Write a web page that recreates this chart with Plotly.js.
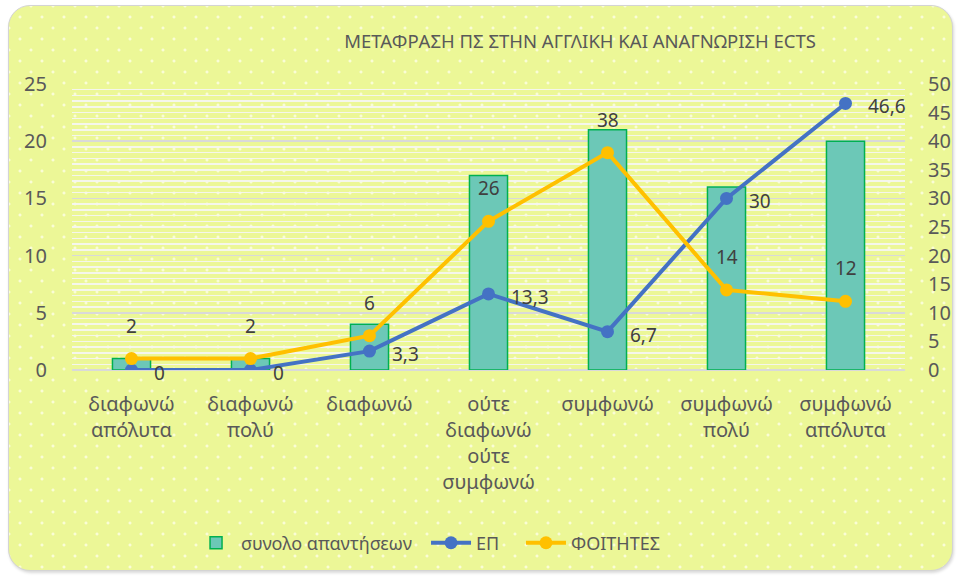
<!DOCTYPE html>
<html>
<head>
<meta charset="utf-8">
<script src="https://cdn.plot.ly/plotly-3.0.1.min.js"></script>
<style>
  html, body { margin: 0; padding: 0; width: 959px; height: 578px; overflow: hidden; background: #ffffff; }
  #frame {
    position: absolute; left: 8px; top: 5px; width: 945px; height: 566px;
    border: 1.5px solid #D4D4D4; border-radius: 22px; box-sizing: border-box;
    background-color: #ECF797;
    background-image:
      radial-gradient(circle, rgba(255,255,235,0.75) 1.2px, transparent 1.8px),
      radial-gradient(circle, rgba(255,255,235,0.75) 1.2px, transparent 1.8px);
    background-size: 22px 22px, 22px 22px;
    background-position: 0px 0px, 11px 11px;
    box-shadow: 1px 2px 3px rgba(0,0,0,0.15);
  }
  #chart { position: absolute; left: 0; top: 0; width: 959px; height: 578px; }
</style>
</head>
<body>
<div id="frame"></div>
<div id="chart"></div>
<script>
const categories = ["διαφωνώ<br>απόλυτα", "διαφωνώ<br>πολύ", "διαφωνώ", "ούτε<br>διαφωνώ<br>ούτε<br>συμφωνώ", "συμφωνώ", "συμφωνώ<br>πολύ", "συμφωνώ<br>απόλυτα"];
const totalAnswers = [1, 1, 4, 17, 21, 16, 20];
const epValues = [0, 0, 3.3, 13.3, 6.7, 30, 46.6];
const studentValues = [2, 2, 6, 26, 38, 14, 12];
const leftTicks = [0, 5, 10, 15, 20, 25];
const rightTicks = [0, 5, 10, 15, 20, 25, 30, 35, 40, 45, 50];

const FONT = "Noto Sans, Open Sans, DejaVu Sans, sans-serif";
const fmt = v => String(v).replace('.', ',');

const traces = [
  {
    type: 'bar', name: 'συνολο απαντήσεων', x: categories, y: totalAnswers,
    width: 0.32, legend: 'legend',
    marker: { color: '#6CC8B7', line: { color: '#00B050', width: 1.5 } },
    hoverinfo: 'none'
  },
  {
    type: 'scatter', mode: 'lines+markers', name: 'ΕΠ', x: categories, y: epValues, yaxis: 'y2',
    legend: 'legend2',
    line: { color: '#4472C4', width: 4 },
    marker: { color: '#4472C4', size: 13 },
    hoverinfo: 'none'
  },
  {
    type: 'scatter', mode: 'lines+markers', name: 'ΦΟΙΤΗΤΕΣ', x: categories, y: studentValues, yaxis: 'y2',
    legend: 'legend3',
    line: { color: '#FFC000', width: 4 },
    marker: { color: '#FFC000', size: 13 },
    hoverinfo: 'none'
  }
];

const annotations = [];
categories.forEach((c, i) => {
  annotations.push({
    x: c, y: epValues[i], xref: 'x', yref: 'y2', text: fmt(epValues[i]),
    showarrow: false, xanchor: 'left', yanchor: 'middle', xshift: 20, yshift: -3,
    font: { family: FONT, size: 19, color: '#404040' }
  });
  annotations.push({
    x: c, y: studentValues[i], xref: 'x', yref: 'y2', text: fmt(studentValues[i]),
    showarrow: false, xanchor: 'center', yanchor: 'middle', yshift: 33,
    font: { family: FONT, size: 19, color: '#404040' }
  });
});

const legendBase = (x) => ({
  orientation: 'h', x: x, xanchor: 'left', y: -0.605, yanchor: 'middle',
  font: { family: FONT, size: 18, color: '#595959' },
  bgcolor: 'rgba(0,0,0,0)', itemwidth: 40
});

const layout = {
  width: 959, height: 578,
  margin: { l: 72, r: 54, t: 84, b: 208 },
  paper_bgcolor: 'rgba(0,0,0,0)',
  plot_bgcolor: 'rgba(0,0,0,0)',
  font: { family: FONT, color: '#595959' },
  title: {
    text: 'ΜΕΤΑΦΡΑΣΗ ΠΣ ΣΤΗΝ ΑΓΓΛΙΚΗ ΚΑΙ ΑΝΑΓΝΩΡΙΣΗ ECTS',
    x: 0.61, xref: 'paper', xanchor: 'center',
    y: 1 - 42 / 578, yref: 'container', yanchor: 'middle',
    font: { family: FONT, size: 18.5, color: '#595959' }
  },
  showlegend: true,
  legend: legendBase(0.1429),
  legend2: legendBase(0.425),
  legend3: legendBase(0.539),
  xaxis: {
    type: 'category', range: [-0.5, 6.5], showgrid: false, zeroline: false,
    showline: false, ticks: '', ticklabelstandoff: 20,
    tickfont: { family: FONT, size: 20, color: '#595959' }
  },
  yaxis: {
    range: [0, 25], tickvals: leftTicks, ticktext: leftTicks.map(String),
    showgrid: true, gridcolor: '#D9D9D9', gridwidth: 1.5,
    zeroline: true, zerolinecolor: '#D9D9D9', zerolinewidth: 1.5,
    showline: false, ticks: '', ticklabelstandoff: 24,
    minor: { dtick: 0.5, showgrid: true, gridcolor: 'rgba(246,246,240,0.95)', gridwidth: 1.5 },
    tickfont: { family: FONT, size: 20, color: '#595959' }
  },
  yaxis2: {
    range: [0, 50], tickvals: rightTicks, ticktext: rightTicks.map(String),
    overlaying: 'y', side: 'right', showgrid: false, zeroline: false,
    showline: false, ticks: '', ticklabelstandoff: 22,
    tickfont: { family: FONT, size: 20, color: '#595959' }
  },
  annotations: annotations,
  bargap: 0.68
};

Plotly.newPlot('chart', traces, layout, { displayModeBar: false, staticPlot: true });
</script>
</body>
</html>
